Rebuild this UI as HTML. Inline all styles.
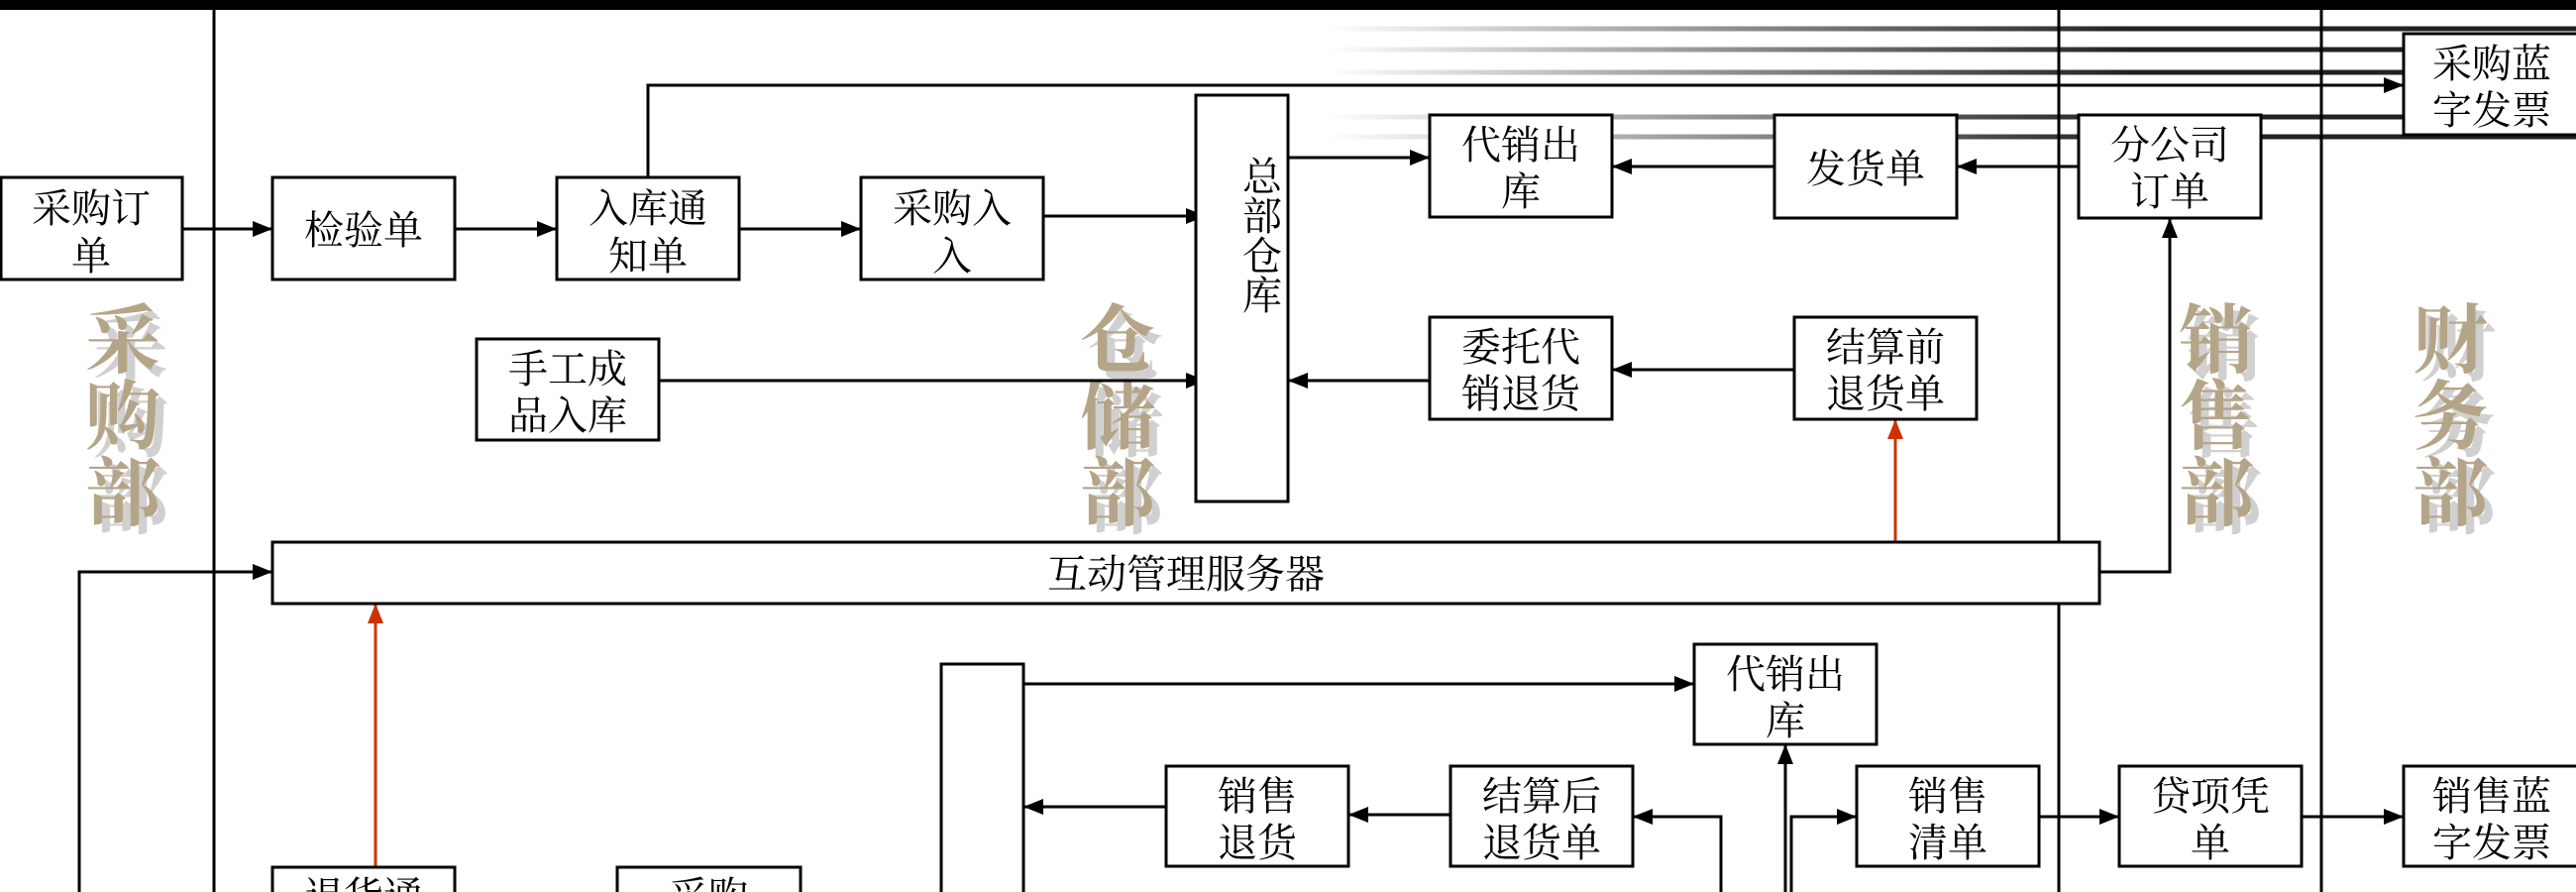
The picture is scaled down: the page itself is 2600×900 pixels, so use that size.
<!DOCTYPE html>
<html><head><meta charset="utf-8"><style>
html,body{margin:0;padding:0;background:#fff;overflow:hidden}
svg{display:block}
text{font-family:"Liberation Serif","Noto Serif CJK SC","Noto Sans CJK SC",serif;}
</style></head><body>
<svg width="2600" height="900" viewBox="0 0 2600 900" xmlns="http://www.w3.org/2000/svg">
<defs>
<marker id="ar" markerWidth="20" markerHeight="16" refX="20" refY="8" orient="auto" markerUnits="userSpaceOnUse"><path d="M0,0 L20,8 L0,16 Z" fill="#000"/></marker>
<marker id="rr" markerWidth="20" markerHeight="16" refX="20" refY="8" orient="auto" markerUnits="userSpaceOnUse"><path d="M0,0 L20,8 L0,16 Z" fill="#cc3300"/></marker>
<linearGradient id="g" x1="1337" y1="0" x2="2150" y2="0" gradientUnits="userSpaceOnUse"><stop offset="0" stop-color="#fff"/><stop offset="1" stop-color="#222"/></linearGradient>
</defs>
<rect x="0" y="0" width="2600" height="10" fill="#000"/>
<g stroke="url(#g)" stroke-width="5">
<line x1="1337" y1="29" x2="2600" y2="29"/>
<line x1="1337" y1="50" x2="2600" y2="50"/>
<line x1="1337" y1="73" x2="2600" y2="73"/>
<line x1="1337" y1="118" x2="2600" y2="118"/>
<line x1="1337" y1="138" x2="2600" y2="138"/>
</g>
<g stroke="#000" stroke-width="3">
<line x1="216" y1="0" x2="216" y2="900"/>
<line x1="2078" y1="0" x2="2078" y2="900"/>
<line x1="2343" y1="0" x2="2343" y2="900"/>
</g>
<g font-size="76" font-weight="bold" text-anchor="middle" font-family="'Noto Sans CJK SC',sans-serif">
<g fill="#d0d0d0">
<text x="132" y="378">采</text><text x="132" y="455">购</text><text x="132" y="532">部</text>
<text x="1136" y="378">仓</text><text x="1136" y="455">储</text><text x="1136" y="532">部</text>
<text x="2245" y="378">销</text><text x="2245" y="455">售</text><text x="2245" y="532">部</text>
<text x="2481" y="378">财</text><text x="2481" y="455">务</text><text x="2481" y="532">部</text>
</g>
<g fill="#b5a588">
<text x="124" y="370">采</text><text x="124" y="447">购</text><text x="124" y="524">部</text>
<text x="1128" y="370">仓</text><text x="1128" y="447">储</text><text x="1128" y="524">部</text>
<text x="2237" y="370">销</text><text x="2237" y="447">售</text><text x="2237" y="524">部</text>
<text x="2473" y="370">财</text><text x="2473" y="447">务</text><text x="2473" y="524">部</text>
</g>
</g>
<g stroke="#000" stroke-width="3" fill="none">
<line x1="184" y1="231" x2="275" y2="231" marker-end="url(#ar)"/>
<line x1="459" y1="231" x2="562" y2="231" marker-end="url(#ar)"/>
<line x1="746" y1="231" x2="869" y2="231" marker-end="url(#ar)"/>
<line x1="1053" y1="218" x2="1217" y2="218" marker-end="url(#ar)"/>
<line x1="665" y1="384" x2="1217" y2="384" marker-end="url(#ar)"/>
<polyline points="654,179 654,86 2426,86" marker-end="url(#ar)"/>
<line x1="1300" y1="159" x2="1443" y2="159" marker-end="url(#ar)"/>
<line x1="1791" y1="168" x2="1627" y2="168" marker-end="url(#ar)"/>
<line x1="2098" y1="168" x2="1975" y2="168" marker-end="url(#ar)"/>
<line x1="1811" y1="373" x2="1627" y2="373" marker-end="url(#ar)"/>
<line x1="1443" y1="384" x2="1300" y2="384" marker-end="url(#ar)"/>
<polyline points="2119,577 2190,577 2190,220" marker-end="url(#ar)"/>
<polyline points="80,900 80,577 275,577" marker-end="url(#ar)"/>
<line x1="1033" y1="690" x2="1710" y2="690" marker-end="url(#ar)"/>
<line x1="1177" y1="814" x2="1033" y2="814" marker-end="url(#ar)"/>
<line x1="1464" y1="822" x2="1361" y2="822" marker-end="url(#ar)"/>
<polyline points="1737,900 1737,824 1648,824" marker-end="url(#ar)"/>
<line x1="1802" y1="900" x2="1802" y2="751" marker-end="url(#ar)"/>
<polyline points="1808,900 1808,824 1874,824" marker-end="url(#ar)"/>
<line x1="2058" y1="824" x2="2139" y2="824" marker-end="url(#ar)"/>
<line x1="2323" y1="824" x2="2426" y2="824" marker-end="url(#ar)"/>
</g>
<g stroke="#cc3300" stroke-width="3">
<line x1="1913" y1="547" x2="1913" y2="423" marker-end="url(#rr)"/>
<line x1="379" y1="875" x2="379" y2="609" marker-end="url(#rr)"/>
</g>
<g stroke="#000" stroke-width="3" fill="#fff">
<rect x="1" y="179" width="183" height="103"/>
<rect x="275" y="179" width="184" height="103"/>
<rect x="562" y="179" width="184" height="103"/>
<rect x="869" y="179" width="184" height="103"/>
<rect x="1207" y="96" width="93" height="410"/>
<rect x="481" y="342" width="184" height="102"/>
<rect x="1443" y="116" width="184" height="103"/>
<rect x="1791" y="116" width="184" height="104"/>
<rect x="2098" y="116" width="184" height="104"/>
<rect x="2426" y="34" width="178" height="102"/>
<rect x="1443" y="320" width="184" height="103"/>
<rect x="1811" y="320" width="184" height="103"/>
<rect x="275" y="547" width="1844" height="62"/>
<rect x="950" y="670" width="83" height="240"/>
<rect x="1710" y="650" width="184" height="101"/>
<rect x="1177" y="773" width="184" height="101"/>
<rect x="1464" y="773" width="184" height="101"/>
<rect x="1874" y="773" width="184" height="101"/>
<rect x="2139" y="773" width="184" height="101"/>
<rect x="2426" y="773" width="178" height="101"/>
<rect x="275" y="875" width="184" height="60"/>
<rect x="623" y="875" width="185" height="60"/>
</g>
<g font-size="40" text-anchor="middle" fill="#000">
<text x="92" y="224">采购订</text><text x="92" y="272">单</text>
<text x="367" y="246">检验单</text>
<text x="654" y="224">入库通</text><text x="654" y="272">知单</text>
<text x="961" y="224">采购入</text><text x="961" y="272">入</text>
<text x="1274" y="192">总</text><text x="1274" y="232">部</text><text x="1274" y="272">仓</text><text x="1274" y="312">库</text>
<text x="573" y="386">手工成</text><text x="573" y="433">品入库</text>
<text x="1535" y="160">代销出</text><text x="1535" y="207">库</text>
<text x="1883" y="184">发货单</text>
<text x="2190" y="160">分公司</text><text x="2190" y="207">订单</text>
<text x="2515" y="78">采购蓝</text><text x="2515" y="125">字发票</text>
<text x="1535" y="364">委托代</text><text x="1535" y="411">销退货</text>
<text x="1903" y="364">结算前</text><text x="1903" y="411">退货单</text>
<text x="1197" y="593">互动管理服务器</text>
<text x="1802" y="694">代销出</text><text x="1802" y="741">库</text>
<text x="1269" y="817">销售</text><text x="1269" y="864">退货</text>
<text x="1556" y="817">结算后</text><text x="1556" y="864">退货单</text>
<text x="1966" y="817">销售</text><text x="1966" y="864">清单</text>
<text x="2231" y="817">贷项凭</text><text x="2231" y="864">单</text>
<text x="2515" y="817">销售蓝</text><text x="2515" y="864">字发票</text>
<text x="367" y="918">退货通</text>
<text x="715" y="918">采购</text>
</g>
</svg>
</body></html>
